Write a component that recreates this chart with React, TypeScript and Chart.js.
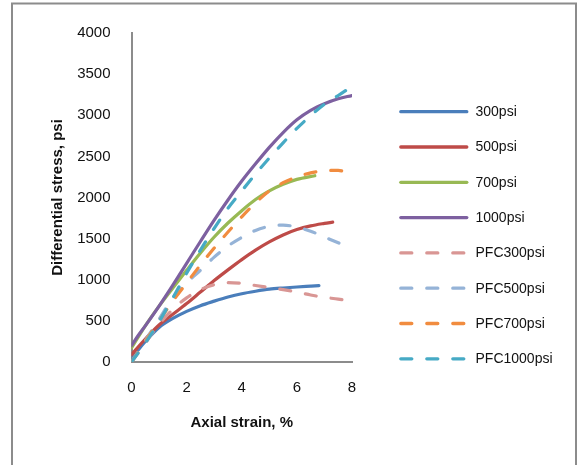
import React, { useEffect, useRef } from "react";
import { Chart, registerables } from "chart.js";

Chart.register(...registerables);

const seriesLabels = ["300psi", "500psi", "700psi", "1000psi", "PFC300psi", "PFC500psi", "PFC700psi", "PFC1000psi"];
const seriesColors = ["#4a7ebb", "#be4b48", "#98b954", "#7d60a0", "#d99694", "#95b3d7", "#f18c3f", "#46aac5"];

const strain300 = [0, 0.25, 0.5, 1, 1.5, 2, 2.5, 3, 3.5, 4, 4.5, 5, 5.5, 6, 6.5, 6.8];
const stress300 = [40, 150, 250, 420, 530, 615, 685, 740, 790, 830, 860, 885, 900, 912, 922, 928];

const strain500 = [0, 0.5, 1, 1.5, 2, 2.5, 3, 3.5, 4, 4.5, 5, 5.5, 6, 6.5, 7, 7.3];
const stress500 = [90, 280, 450, 580, 710, 850, 990, 1120, 1245, 1360, 1460, 1545, 1610, 1655, 1685, 1700];

const strain700 = [0, 0.5, 1, 1.5, 2, 2.5, 3, 3.5, 4, 4.5, 5, 5.5, 6, 6.65];
const stress700 = [170, 440, 680, 900, 1115, 1325, 1520, 1690, 1840, 1975, 2080, 2160, 2220, 2265];

const strain1000 = [0, 0.25, 0.5, 1, 1.5, 2, 2.5, 3, 3.5, 4, 4.5, 5, 5.5, 6, 6.5, 7, 7.5, 8];
const stress1000 = [200, 325, 440, 680, 935, 1200, 1465, 1725, 1970, 2200, 2410, 2610, 2790, 2945, 3060, 3140, 3200, 3240];

const strainP300 = [0, 0.5, 1, 1.5, 2, 2.5, 3, 3.5, 4, 4.5, 5, 5.5, 6, 6.5, 7, 7.5, 8];
const stressP300 = [0, 230, 460, 640, 780, 880, 940, 965, 955, 930, 905, 880, 850, 815, 785, 765, 735];

const strainP500 = [0, 0.5, 1, 1.5, 2, 2.5, 3, 3.5, 4, 4.5, 5, 5.5, 6, 6.5, 7, 7.5, 7.95];
const stressP500 = [0, 260, 520, 780, 960, 1115, 1275, 1410, 1515, 1600, 1650, 1665, 1640, 1590, 1520, 1450, 1390];

const strainP700 = [0, 0.5, 1, 1.5, 2, 2.5, 3, 3.5, 4, 4.5, 5, 5.5, 6, 6.5, 7, 7.5, 7.9];
const stressP700 = [0, 250, 500, 740, 960, 1180, 1385, 1580, 1765, 1935, 2080, 2180, 2250, 2300, 2325, 2330, 2290];

const strainP1000 = [0, 0.5, 1, 1.5, 2, 2.5, 3, 3.5, 4, 4.5, 5, 5.5, 6, 6.5, 7, 7.5, 7.9];
const stressP1000 = [0, 230, 490, 780, 1080, 1360, 1625, 1870, 2080, 2285, 2480, 2665, 2840, 2995, 3135, 3240, 3330];

const strains = [strain300, strain500, strain700, strain1000, strainP300, strainP500, strainP700, strainP1000];
const stresses = [stress300, stress500, stress700, stress1000, stressP300, stressP500, stressP700, stressP1000];

const xTitle = "Axial strain, %";
const yTitle = "Differential stress, psi";

const FONT = "'Liberation Sans', Arial, sans-serif";

const framePlugin = {
  id: "frameAndLegend",
  afterDraw(chart: any) {
    const ctx = chart.ctx;
    ctx.save();
    ctx.strokeStyle = "#8c8c8c";
    ctx.lineWidth = 2;
    ctx.setLineDash([]);
    ctx.strokeRect(12, 3.5, 564, 600);
    ctx.restore();

    chart.data.datasets.forEach((ds: any, i: number) => {
      const y = 111.7 + i * 35.3;
      ctx.save();
      ctx.strokeStyle = ds.borderColor;
      ctx.lineWidth = 3.3;
      ctx.lineCap = "round";
      ctx.setLineDash(ds.borderDash || []);
      ctx.beginPath();
      ctx.moveTo(400.8, y);
      ctx.lineTo(466.8, y);
      ctx.stroke();
      ctx.setLineDash([]);
      ctx.fillStyle = "#111";
      ctx.font = `14px ${FONT}`;
      ctx.textAlign = "left";
      ctx.textBaseline = "middle";
      ctx.fillText(ds.label, 475.5, y + 0.5);
      ctx.restore();
    });
  },
};

export default function App() {
  const ref = useRef<HTMLCanvasElement>(null);
  useEffect(() => {
    if (!ref.current) return;
    const datasets = seriesLabels.map((label, i) => ({
      label,
      data: strains[i].map((x, k) => ({ x, y: stresses[i][k] })),
      borderColor: seriesColors[i],
      backgroundColor: seriesColors[i],
      borderWidth: 3.2,
      borderDash: i >= 4 ? [11, 15] : [],
      borderCapStyle: "round",
      borderJoinStyle: "round",
      pointRadius: 0,
      cubicInterpolationMode: "monotone",
      fill: false,
      order: 8 - i,
    }));
    const chart = new Chart(ref.current, {
      type: "line",
      data: { datasets },
      options: {
        animation: false,
        responsive: false,
        devicePixelRatio: 1,
        layout: { padding: { left: 0, top: 33, right: 225, bottom: 3 } },
        plugins: { legend: { display: false }, tooltip: { enabled: false } },
        scales: {
          x: {
            type: "linear",
            min: 0,
            max: 8,
            grid: { display: false, drawTicks: false },
            border: { display: true, color: "#8c8c8c", width: 2 },
            ticks: {
              stepSize: 2,
              padding: 17,
              color: "#111",
              font: { family: FONT, size: 15 },
              callback: (v: any) => String(v),
            },
            title: {
              display: true,
              text: xTitle,
              color: "#111",
              font: { family: FONT, size: 15, weight: "bold" },
              padding: { top: 0, bottom: 30 },
            },
            afterFit(scale: any) {
              scale.height = 100;
            },
          },
          y: {
            type: "linear",
            min: 0,
            max: 4000,
            grid: { display: false, drawTicks: false },
            border: { display: true, color: "#8c8c8c", width: 2 },
            ticks: {
              stepSize: 500,
              padding: 21,
              color: "#111",
              font: { family: FONT, size: 15 },
              callback: (v: any) => String(v),
            },
            title: {
              display: true,
              text: yTitle,
              color: "#111",
              font: { family: FONT, size: 15, weight: "bold" },
              padding: { top: 49, bottom: 0 },
            },
            afterFit(scale: any) {
              scale.width = 131.5;
            },
          },
        },
      },
      plugins: [framePlugin],
    } as any);
    return () => chart.destroy();
  }, []);
  return (
    <div style={{ position: "fixed", left: 0, top: 0, width: 577, height: 465, background: "#fff" }}>
      <canvas ref={ref} width={577} height={465} style={{ display: "block" }} />
    </div>
  );
}
